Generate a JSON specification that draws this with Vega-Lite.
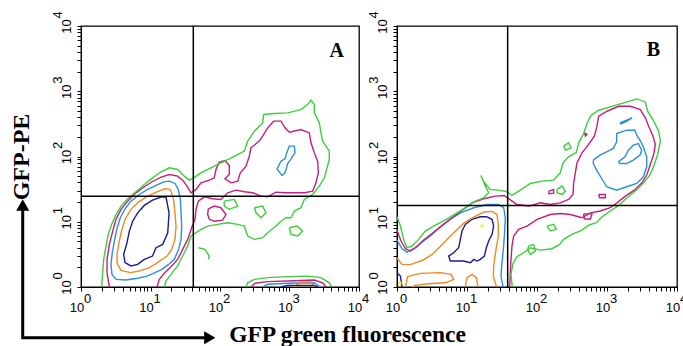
{
"$schema":"https://vega.github.io/schema/vega-lite/v6.json",
"background":"white",
"padding":{"left":9,"top":10,"right":0,"bottom":0},
"bounds":"flush",
"spacing":38,
"config":{
 "view":{"stroke":"#000","strokeWidth":1.3},
 "axis":{"grid":false,"domainColor":"#000","domainWidth":1,"tickColor":"#000","tickSize":4,"tickWidth":1,"labelColor":"#000","labelFont":"Liberation Sans","labelFontSize":13,"labelOverlap":false,"labelFlush":false},
 "axisY":{"labelAngle":-90,"labelAlign":"center","labelBaseline":"alphabetic","labelPadding":6.5},
 "axisX":{"labelBaseline":"alphabetic","labelPadding":20,"labelOffset":-4.5},
 "text":{"font":"Liberation Sans","fontSize":13,"color":"#000"}
},
"datasets":{
"xexp":[{"x":1.24,"y":0.569,"t":"0"},{"x":12.4,"y":0.569,"t":"1"},{"x":124,"y":0.569,"t":"2"},{"x":1240,"y":0.569,"t":"3"},{"x":12400,"y":0.569,"t":"4"}],
"yexp":[{"x":0.5364,"y":1.474,"t":"0"},{"x":0.5364,"y":14.74,"t":"1"},{"x":0.5364,"y":147.4,"t":"2"},{"x":0.5364,"y":1474,"t":"3"},{"x":0.5364,"y":14740,"t":"4"}],
"A":[
{"g":"a1","c":"n","i":0,"x":16.7,"y":24.1},{"g":"a1","c":"n","i":1,"x":18.5,"y":13.7},{"g":"a1","c":"n","i":2,"x":17.7,"y":6.79},{"g":"a1","c":"n","i":3,"x":15.0,"y":4.5},{"g":"a1","c":"n","i":4,"x":12.0,"y":4.0},{"g":"a1","c":"n","i":5,"x":10.7,"y":2.98},{"g":"a1","c":"n","i":6,"x":8.15,"y":2.65},{"g":"a1","c":"n","i":7,"x":6.54,"y":2.22},{"g":"a1","c":"n","i":8,"x":5.24,"y":2.1},{"g":"a1","c":"n","i":9,"x":4.3,"y":2.36},{"g":"a1","c":"n","i":10,"x":4.11,"y":3.16},{"g":"a1","c":"n","i":11,"x":4.59,"y":4.77},{"g":"a1","c":"n","i":12,"x":4.96,"y":7.2},{"g":"a1","c":"n","i":13,"x":5.54,"y":10.2},{"g":"a1","c":"n","i":14,"x":6.54,"y":13.7},{"g":"a1","c":"n","i":15,"x":8.15,"y":17.8},{"g":"a1","c":"n","i":16,"x":10.7,"y":21.5},{"g":"a1","c":"n","i":17,"x":14.2,"y":23.9},{"g":"a1","c":"n","i":18,"x":16.7,"y":24.1},
{"g":"a2","c":"o","i":0,"x":19.3,"y":31.3},{"g":"a2","c":"o","i":1,"x":21.5,"y":22.0},{"g":"a2","c":"o","i":2,"x":22.5,"y":13.7},{"g":"a2","c":"o","i":3,"x":23.3,"y":8.59},{"g":"a2","c":"o","i":4,"x":22.5,"y":5.37},{"g":"a2","c":"o","i":5,"x":20.2,"y":3.77},{"g":"a2","c":"o","i":6,"x":17.3,"y":2.98},{"g":"a2","c":"o","i":7,"x":14.2,"y":2.59},{"g":"a2","c":"o","i":8,"x":11.6,"y":2.22},{"g":"a2","c":"o","i":9,"x":9.1,"y":1.93},{"g":"a2","c":"o","i":10,"x":6.9,"y":1.76},{"g":"a2","c":"o","i":11,"x":5.13,"y":1.66},{"g":"a2","c":"o","i":12,"x":3.77,"y":1.8},{"g":"a2","c":"o","i":13,"x":3.3,"y":2.3},{"g":"a2","c":"o","i":14,"x":3.3,"y":3.16},{"g":"a2","c":"o","i":15,"x":3.52,"y":4.77},{"g":"a2","c":"o","i":16,"x":3.85,"y":7.45},{"g":"a2","c":"o","i":17,"x":4.34,"y":11.1},{"g":"a2","c":"o","i":18,"x":5.24,"y":15.5},{"g":"a2","c":"o","i":19,"x":6.68,"y":20.0},{"g":"a2","c":"o","i":20,"x":9.1,"y":24.7},{"g":"a2","c":"o","i":21,"x":12.4,"y":28.8},{"g":"a2","c":"o","i":22,"x":16.2,"y":32.0},{"g":"a2","c":"o","i":23,"x":19.3,"y":31.3},
{"g":"a3","c":"b","i":0,"x":18.7,"y":41.9},{"g":"a3","c":"b","i":1,"x":22.5,"y":38.6},{"g":"a3","c":"b","i":2,"x":25.1,"y":31.3},{"g":"a3","c":"b","i":3,"x":26.9,"y":22.0},{"g":"a3","c":"b","i":4,"x":27.5,"y":13.7},{"g":"a3","c":"b","i":5,"x":28.1,"y":8.59},{"g":"a3","c":"b","i":6,"x":27.5,"y":5.37},{"g":"a3","c":"b","i":7,"x":25.4,"y":3.77},{"g":"a3","c":"b","i":8,"x":22.0,"y":2.65},{"g":"a3","c":"b","i":9,"x":18.1,"y":2.2},{"g":"a3","c":"b","i":10,"x":14.6,"y":1.86},{"g":"a3","c":"b","i":11,"x":11.6,"y":1.66},{"g":"a3","c":"b","i":12,"x":8.91,"y":1.47},{"g":"a3","c":"b","i":13,"x":6.54,"y":1.36},{"g":"a3","c":"b","i":14,"x":4.44,"y":1.28},{"g":"a3","c":"b","i":15,"x":3.22,"y":1.31},{"g":"a3","c":"b","i":16,"x":2.79,"y":1.56},{"g":"a3","c":"b","i":17,"x":2.7,"y":2.22},{"g":"a3","c":"b","i":18,"x":2.82,"y":3.35},{"g":"a3","c":"b","i":19,"x":3.02,"y":5.06},{"g":"a3","c":"b","i":20,"x":3.3,"y":7.91},{"g":"a3","c":"b","i":21,"x":3.68,"y":11.5},{"g":"a3","c":"b","i":22,"x":4.3,"y":15.8},{"g":"a3","c":"b","i":23,"x":5.24,"y":20.7},{"g":"a3","c":"b","i":24,"x":6.9,"y":26.2},{"g":"a3","c":"b","i":25,"x":9.1,"y":31.3},{"g":"a3","c":"b","i":26,"x":12.0,"y":36.0},{"g":"a3","c":"b","i":27,"x":15.5,"y":40.9},{"g":"a3","c":"b","i":28,"x":18.7,"y":41.9},
{"g":"a4","c":"m","i":1,"x":2.56,"y":1},{"g":"a4","c":"m","i":2,"x":2.37,"y":1.66},{"g":"a4","c":"m","i":3,"x":2.37,"y":2.65},{"g":"a4","c":"m","i":4,"x":2.56,"y":4.5},{"g":"a4","c":"m","i":5,"x":2.86,"y":7.2},{"g":"a4","c":"m","i":6,"x":3.19,"y":10.9},{"g":"a4","c":"m","i":7,"x":3.77,"y":15.5},{"g":"a4","c":"m","i":8,"x":4.69,"y":20.7},{"g":"a4","c":"m","i":9,"x":5.98,"y":26.8},{"g":"a4","c":"m","i":10,"x":8.15,"y":34.4},{"g":"a4","c":"m","i":11,"x":10.7,"y":41.4},{"g":"a4","c":"m","i":12,"x":14.2,"y":48.3},{"g":"a4","c":"m","i":13,"x":18.7,"y":53.0},{"g":"a4","c":"m","i":14,"x":24.6,"y":50.0},{"g":"a4","c":"m","i":15,"x":29.0,"y":43.4},{"g":"a4","c":"m","i":16,"x":33.5,"y":35.2},{"g":"a4","c":"m","i":17,"x":38.3,"y":27.8},{"g":"a4","c":"m","i":18,"x":45.2,"y":31.3},{"g":"a4","c":"m","i":19,"x":53.3,"y":39.5},{"g":"a4","c":"m","i":20,"x":70.3,"y":43.4},{"g":"a4","c":"m","i":21,"x":82.8,"y":47.1},{"g":"a4","c":"m","i":22,"x":87.5,"y":63.2},{"g":"a4","c":"m","i":23,"x":97.7,"y":81.9},{"g":"a4","c":"m","i":24,"x":118,"y":86.9},{"g":"a4","c":"m","i":25,"x":136,"y":72.8},{"g":"a4","c":"m","i":26,"x":136,"y":53.0},{"g":"a4","c":"m","i":27,"x":118,"y":45.5},{"g":"a4","c":"m","i":28,"x":144,"y":39.5},{"g":"a4","c":"m","i":29,"x":180,"y":41.9},{"g":"a4","c":"m","i":30,"x":196,"y":56.2},{"g":"a4","c":"m","i":31,"x":237,"y":71.1},{"g":"a4","c":"m","i":32,"x":264,"y":101},{"g":"a4","c":"m","i":33,"x":279,"y":136},{"g":"a4","c":"m","i":34,"x":368,"y":172},{"g":"a4","c":"m","i":35,"x":411,"y":205},{"g":"a4","c":"m","i":36,"x":485,"y":275},{"g":"a4","c":"m","i":37,"x":592,"y":348},{"g":"a4","c":"m","i":38,"x":755,"y":348},{"g":"a4","c":"m","i":39,"x":861,"y":275},{"g":"a4","c":"m","i":40,"x":995,"y":236},{"g":"a4","c":"m","i":41,"x":1462,"y":259},{"g":"a4","c":"m","i":42,"x":1928,"y":230},{"g":"a4","c":"m","i":43,"x":2037,"y":162},{"g":"a4","c":"m","i":44,"x":2275,"y":114},{"g":"a4","c":"m","i":45,"x":2541,"y":84.9},{"g":"a4","c":"m","i":46,"x":2600,"y":56.2},{"g":"a4","c":"m","i":47,"x":2404,"y":39.5},{"g":"a4","c":"m","i":48,"x":2153,"y":29.5},{"g":"a4","c":"m","i":49,"x":1633,"y":27.8},{"g":"a4","c":"m","i":50,"x":1175,"y":27.8},{"g":"a4","c":"m","i":51,"x":843,"y":27.8},{"g":"a4","c":"m","i":52,"x":640,"y":28.4},{"g":"a4","c":"m","i":53,"x":485,"y":24.1},{"g":"a4","c":"m","i":54,"x":389,"y":24.7},{"g":"a4","c":"m","i":55,"x":295,"y":27.8},{"g":"a4","c":"m","i":56,"x":224,"y":28.8},{"g":"a4","c":"m","i":57,"x":170,"y":30.5},{"g":"a4","c":"m","i":58,"x":129,"y":27.8},{"g":"a4","c":"m","i":59,"x":103,"y":22.0},{"g":"a4","c":"m","i":60,"x":78.4,"y":22.5},{"g":"a4","c":"m","i":61,"x":59.6,"y":24.1},{"g":"a4","c":"m","i":62,"x":48.8,"y":20.7},{"g":"a4","c":"m","i":63,"x":45.2,"y":15.5},{"g":"a4","c":"m","i":64,"x":43.7,"y":10.9},{"g":"a4","c":"m","i":65,"x":39.1,"y":8.09},{"g":"a4","c":"m","i":66,"x":34.3,"y":5.37},{"g":"a4","c":"m","i":67,"x":29.0,"y":3.77},{"g":"a4","c":"m","i":68,"x":24.6,"y":2.65},{"g":"a4","c":"m","i":69,"x":19.7,"y":2.05},{"g":"a4","c":"m","i":70,"x":15.8,"y":1.62},{"g":"a4","c":"m","i":71,"x":13.4,"y":1.31},{"g":"a4","c":"m","i":72,"x":12.4,"y":1},
{"g":"a5","c":"m","i":0,"x":67.9,"y":15.8},{"g":"a5","c":"m","i":1,"x":82.8,"y":17.4},{"g":"a5","c":"m","i":2,"x":103,"y":16.4},{"g":"a5","c":"m","i":3,"x":122,"y":12.9},{"g":"a5","c":"m","i":4,"x":109,"y":10.6},{"g":"a5","c":"m","i":5,"x":82.8,"y":10.2},{"g":"a5","c":"m","i":6,"x":70.3,"y":10.9},{"g":"a5","c":"m","i":7,"x":66.5,"y":12.9},{"g":"a5","c":"m","i":8,"x":67.9,"y":15.8},
{"g":"a6","c":"b","i":0,"x":755,"y":84.9},{"g":"a6","c":"b","i":1,"x":661,"y":64.7},{"g":"a6","c":"b","i":2,"x":780,"y":51.2},{"g":"a6","c":"b","i":3,"x":861,"y":56.2},{"g":"a6","c":"b","i":4,"x":942,"y":78.1},{"g":"a6","c":"b","i":5,"x":1052,"y":92.1},{"g":"a6","c":"b","i":6,"x":1199,"y":114},{"g":"a6","c":"b","i":7,"x":1175,"y":144},{"g":"a6","c":"b","i":8,"x":995,"y":144},{"g":"a6","c":"b","i":9,"x":920,"y":116},{"g":"a6","c":"b","i":10,"x":861,"y":92.1},{"g":"a6","c":"b","i":11,"x":755,"y":84.9},
{"g":"a7","c":"g","i":0,"x":1.98,"y":1},{"g":"a7","c":"g","i":1,"x":2.05,"y":1.66},{"g":"a7","c":"g","i":2,"x":2.12,"y":2.65},{"g":"a7","c":"g","i":3,"x":2.29,"y":4.24},{"g":"a7","c":"g","i":4,"x":2.47,"y":6.4},{"g":"a7","c":"g","i":5,"x":2.76,"y":9.1},{"g":"a7","c":"g","i":6,"x":3.19,"y":12.9},{"g":"a7","c":"g","i":7,"x":3.77,"y":17.4},{"g":"a7","c":"g","i":8,"x":4.69,"y":22.5},{"g":"a7","c":"g","i":9,"x":6.18,"y":28.8},{"g":"a7","c":"g","i":10,"x":8.15,"y":37.3},{"g":"a7","c":"g","i":11,"x":10.7,"y":47.1},{"g":"a7","c":"g","i":12,"x":14.2,"y":58.3},{"g":"a7","c":"g","i":13,"x":18.7,"y":67.1},{"g":"a7","c":"g","i":14,"x":24.6,"y":63.2},{"g":"a7","c":"g","i":15,"x":30.7,"y":50.0},{"g":"a7","c":"g","i":16,"x":36.2,"y":43.4},{"g":"a7","c":"g","i":17,"x":41.8,"y":47.1},{"g":"a7","c":"g","i":18,"x":53.3,"y":56.2},{"g":"a7","c":"g","i":19,"x":82.8,"y":71.1},{"g":"a7","c":"g","i":20,"x":129,"y":89.9},{"g":"a7","c":"g","i":21,"x":180,"y":107},{"g":"a7","c":"g","i":22,"x":224,"y":121},{"g":"a7","c":"g","i":23,"x":250,"y":172},{"g":"a7","c":"g","i":24,"x":312,"y":244},{"g":"a7","c":"g","i":25,"x":411,"y":327},{"g":"a7","c":"g","i":26,"x":425,"y":440},{"g":"a7","c":"g","i":27,"x":605,"y":455},{"g":"a7","c":"g","i":28,"x":942,"y":466},{"g":"a7","c":"g","i":29,"x":1462,"y":524},{"g":"a7","c":"g","i":30,"x":1824,"y":625},{"g":"a7","c":"g","i":31,"x":2037,"y":728},{"g":"a7","c":"g","i":32,"x":2275,"y":625},{"g":"a7","c":"g","i":33,"x":2275,"y":466},{"g":"a7","c":"g","i":34,"x":2685,"y":327},{"g":"a7","c":"g","i":35,"x":2838,"y":230},{"g":"a7","c":"g","i":36,"x":3000,"y":172},{"g":"a7","c":"g","i":37,"x":3741,"y":121},{"g":"a7","c":"g","i":38,"x":3741,"y":89.9},{"g":"a7","c":"g","i":39,"x":3467,"y":67.1},{"g":"a7","c":"g","i":40,"x":3170,"y":47.1},{"g":"a7","c":"g","i":41,"x":2685,"y":35.2},{"g":"a7","c":"g","i":42,"x":2153,"y":26.2},{"g":"a7","c":"g","i":43,"x":1633,"y":22.0},{"g":"a7","c":"g","i":44,"x":1462,"y":16.4},{"g":"a7","c":"g","i":45,"x":1175,"y":14.6},{"g":"a7","c":"g","i":46,"x":1052,"y":11.5},{"g":"a7","c":"g","i":47,"x":891,"y":11.5},{"g":"a7","c":"g","i":48,"x":755,"y":10.2},{"g":"a7","c":"g","i":49,"x":640,"y":8.59},{"g":"a7","c":"g","i":50,"x":485,"y":6.79},{"g":"a7","c":"g","i":51,"x":411,"y":5.69},{"g":"a7","c":"g","i":52,"x":312,"y":5.37},{"g":"a7","c":"g","i":53,"x":250,"y":6.04},{"g":"a7","c":"g","i":54,"x":224,"y":8.59},{"g":"a7","c":"g","i":55,"x":180,"y":9.1},{"g":"a7","c":"g","i":56,"x":129,"y":9.66},{"g":"a7","c":"g","i":57,"x":92.5,"y":9.1},{"g":"a7","c":"g","i":58,"x":66.5,"y":8.59},{"g":"a7","c":"g","i":59,"x":53.3,"y":7.64},{"g":"a7","c":"g","i":60,"x":45.2,"y":6.79},{"g":"a7","c":"g","i":61,"x":38.3,"y":6.04},{"g":"a7","c":"g","i":62,"x":34.3,"y":4.24},{"g":"a7","c":"g","i":63,"x":29.0,"y":2.98},{"g":"a7","c":"g","i":64,"x":24.6,"y":2.1},{"g":"a7","c":"g","i":65,"x":19.7,"y":1.56},{"g":"a7","c":"g","i":66,"x":16.7,"y":1.24},{"g":"a7","c":"g","i":67,"x":15.8,"y":1},
{"g":"a8","c":"g","i":0,"x":115,"y":20.7},{"g":"a8","c":"g","i":1,"x":161,"y":22.0},{"g":"a8","c":"g","i":2,"x":180,"y":17.4},{"g":"a8","c":"g","i":3,"x":136,"y":15.5},{"g":"a8","c":"g","i":4,"x":115,"y":17.4},{"g":"a8","c":"g","i":5,"x":115,"y":20.7},
{"g":"a9","c":"g","i":0,"x":312,"y":16.4},{"g":"a9","c":"g","i":1,"x":411,"y":17.4},{"g":"a9","c":"g","i":2,"x":459,"y":13.7},{"g":"a9","c":"g","i":3,"x":389,"y":11.5},{"g":"a9","c":"g","i":4,"x":330,"y":13.7},{"g":"a9","c":"g","i":5,"x":312,"y":16.4},
{"g":"a10","c":"g","i":0,"x":995,"y":8.09},{"g":"a10","c":"g","i":1,"x":1282,"y":8.59},{"g":"a10","c":"g","i":2,"x":1545,"y":7.2},{"g":"a10","c":"g","i":3,"x":1312,"y":6.04},{"g":"a10","c":"g","i":4,"x":1052,"y":6.4},{"g":"a10","c":"g","i":5,"x":995,"y":8.09},
{"g":"a11","c":"g","i":0,"x":48.8,"y":4.0},{"g":"a11","c":"g","i":1,"x":60.8,"y":3.77},{"g":"a11","c":"g","i":2,"x":70.3,"y":2.98},{"g":"a11","c":"g","i":3,"x":67.9,"y":2.65},
{"g":"a12","c":"g","i":0,"x":237,"y":1},{"g":"a12","c":"g","i":1,"x":250,"y":1.16},{"g":"a12","c":"g","i":2,"x":312,"y":1.31},{"g":"a12","c":"g","i":3,"x":485,"y":1.39},{"g":"a12","c":"g","i":4,"x":942,"y":1.44},{"g":"a12","c":"g","i":5,"x":1824,"y":1.47},{"g":"a12","c":"g","i":6,"x":2838,"y":1.39},{"g":"a12","c":"g","i":7,"x":3741,"y":1.16},{"g":"a12","c":"g","i":8,"x":4046,"y":1},
{"g":"a13","c":"m","i":0,"x":279,"y":1},{"g":"a13","c":"m","i":1,"x":319,"y":1.14},{"g":"a13","c":"m","i":2,"x":485,"y":1.21},{"g":"a13","c":"m","i":3,"x":1175,"y":1.25},{"g":"a13","c":"m","i":4,"x":2275,"y":1.28},{"g":"a13","c":"m","i":5,"x":3000,"y":1.16},{"g":"a13","c":"m","i":6,"x":3350,"y":1},
{"g":"a14","c":"b","i":0,"x":411,"y":1},{"g":"a14","c":"b","i":1,"x":485,"y":1.1},{"g":"a14","c":"b","i":2,"x":1175,"y":1.15},{"g":"a14","c":"b","i":3,"x":2275,"y":1.16},{"g":"a14","c":"b","i":4,"x":2780,"y":1},
{"g":"a15","c":"o","i":0,"x":1175,"y":1},{"g":"a15","c":"o","i":1,"x":1462,"y":1.19},{"g":"a15","c":"o","i":2,"x":2037,"y":1.19},{"g":"a15","c":"o","i":3,"x":2275,"y":1},
{"g":"a16","c":"n","i":0,"x":755,"y":1},{"g":"a16","c":"n","i":1,"x":942,"y":1.06},{"g":"a16","c":"n","i":2,"x":2275,"y":1.06},{"g":"a16","c":"n","i":3,"x":2541,"y":1}
],
"B":[
{"g":"b1","c":"n","i":0,"x":19.3,"y":11.9},{"g":"b1","c":"n","i":1,"x":22.8,"y":10.9},{"g":"b1","c":"n","i":2,"x":24.0,"y":8.59},{"g":"b1","c":"n","i":3,"x":22.8,"y":6.4},{"g":"b1","c":"n","i":4,"x":20.4,"y":5.06},{"g":"b1","c":"n","i":5,"x":18.9,"y":4.0},{"g":"b1","c":"n","i":6,"x":17.7,"y":2.98},{"g":"b1","c":"n","i":7,"x":15.5,"y":2.65},{"g":"b1","c":"n","i":8,"x":13.9,"y":2.5},{"g":"b1","c":"n","i":9,"x":12.5,"y":2.65},{"g":"b1","c":"n","i":10,"x":11.2,"y":2.36},{"g":"b1","c":"n","i":11,"x":8.95,"y":2.5},{"g":"b1","c":"n","i":12,"x":7.2,"y":2.5},{"g":"b1","c":"n","i":13,"x":5.78,"y":2.5},{"g":"b1","c":"n","i":14,"x":5.47,"y":2.98},{"g":"b1","c":"n","i":15,"x":6.45,"y":3.35},{"g":"b1","c":"n","i":16,"x":7.6,"y":4.0},{"g":"b1","c":"n","i":17,"x":8.03,"y":5.37},{"g":"b1","c":"n","i":18,"x":8.49,"y":7.2},{"g":"b1","c":"n","i":19,"x":9.46,"y":9.1},{"g":"b1","c":"n","i":20,"x":11.8,"y":10.9},{"g":"b1","c":"n","i":21,"x":15.5,"y":11.9},{"g":"b1","c":"n","i":22,"x":19.3,"y":11.9},
{"g":"b2","c":"n","i":0,"x":1,"y":1.66},{"g":"b2","c":"n","i":1,"x":1.12,"y":1.47},{"g":"b2","c":"n","i":2,"x":1.18,"y":1},
{"g":"b3","c":"o","i":0,"x":1,"y":2.78},{"g":"b3","c":"o","i":1,"x":1.18,"y":2.22},{"g":"b3","c":"o","i":2,"x":1.55,"y":2.2},{"g":"b3","c":"o","i":3,"x":2.38,"y":2.59},{"g":"b3","c":"o","i":4,"x":3.16,"y":3.16},{"g":"b3","c":"o","i":5,"x":4.11,"y":4.14},{"g":"b3","c":"o","i":6,"x":5.47,"y":5.69},{"g":"b3","c":"o","i":7,"x":7.12,"y":7.45},{"g":"b3","c":"o","i":8,"x":8.95,"y":9.43},{"g":"b3","c":"o","i":9,"x":11.0,"y":10.9},{"g":"b3","c":"o","i":10,"x":13.9,"y":12.5},{"g":"b3","c":"o","i":11,"x":17.7,"y":14.1},{"g":"b3","c":"o","i":12,"x":22.8,"y":14.4},{"g":"b3","c":"o","i":13,"x":26.8,"y":12.9},{"g":"b3","c":"o","i":14,"x":28.0,"y":9.1},{"g":"b3","c":"o","i":15,"x":28.0,"y":5.89},{"g":"b3","c":"o","i":16,"x":26.2,"y":4.0},{"g":"b3","c":"o","i":17,"x":25.1,"y":2.91},{"g":"b3","c":"o","i":18,"x":24.0,"y":2.1},{"g":"b3","c":"o","i":19,"x":23.8,"y":1.44},{"g":"b3","c":"o","i":20,"x":26.5,"y":1},
{"g":"b4","c":"o","i":0,"x":1.32,"y":1},{"g":"b4","c":"o","i":1,"x":1.42,"y":1.44},{"g":"b4","c":"o","i":2,"x":2.15,"y":1.62},{"g":"b4","c":"o","i":3,"x":4.16,"y":1.66},{"g":"b4","c":"o","i":4,"x":5.91,"y":1.56},{"g":"b4","c":"o","i":5,"x":6.45,"y":1.31},{"g":"b4","c":"o","i":6,"x":4.9,"y":1.16},{"g":"b4","c":"o","i":7,"x":2.83,"y":1.12},{"g":"b4","c":"o","i":8,"x":1.83,"y":1.06},{"g":"b4","c":"o","i":9,"x":1.64,"y":1},
{"g":"b5","c":"o","i":0,"x":9.46,"y":1},{"g":"b5","c":"o","i":1,"x":10.0,"y":1.39},{"g":"b5","c":"o","i":2,"x":11.8,"y":1.56},{"g":"b5","c":"o","i":3,"x":13.6,"y":1.39},{"g":"b5","c":"o","i":4,"x":14.4,"y":1},
{"g":"b6","c":"b","i":0,"x":1,"y":5.24},{"g":"b6","c":"b","i":1,"x":1.18,"y":3.86},{"g":"b6","c":"b","i":2,"x":1.39,"y":3.43},{"g":"b6","c":"b","i":3,"x":1.73,"y":3.86},{"g":"b6","c":"b","i":4,"x":2.28,"y":4.88},{"g":"b6","c":"b","i":5,"x":2.99,"y":6.04},{"g":"b6","c":"b","i":6,"x":4.16,"y":8.28},{"g":"b6","c":"b","i":7,"x":5.78,"y":10.9},{"g":"b6","c":"b","i":8,"x":8.03,"y":13.7},{"g":"b6","c":"b","i":9,"x":12.5,"y":16.4},{"g":"b6","c":"b","i":10,"x":19.3,"y":18.4},{"g":"b6","c":"b","i":11,"x":28.3,"y":18.4},{"g":"b6","c":"b","i":12,"x":33.4,"y":16.4},{"g":"b6","c":"b","i":13,"x":35.3,"y":11.5},{"g":"b6","c":"b","i":14,"x":34.5,"y":7.2},{"g":"b6","c":"b","i":15,"x":33.4,"y":4.24},{"g":"b6","c":"b","i":16,"x":31.6,"y":2.36},{"g":"b6","c":"b","i":17,"x":30.6,"y":1.47},{"g":"b6","c":"b","i":18,"x":32.7,"y":1},
{"g":"b7","c":"m","i":0,"x":1,"y":7.45},{"g":"b7","c":"m","i":1,"x":1.14,"y":5.06},{"g":"b7","c":"m","i":2,"x":1.32,"y":3.86},{"g":"b7","c":"m","i":3,"x":1.55,"y":3.56},{"g":"b7","c":"m","i":4,"x":1.93,"y":4.14},{"g":"b7","c":"m","i":5,"x":2.4,"y":5.24},{"g":"b7","c":"m","i":6,"x":3.16,"y":6.62},{"g":"b7","c":"m","i":7,"x":4.4,"y":8.79},{"g":"b7","c":"m","i":8,"x":6.11,"y":11.5},{"g":"b7","c":"m","i":9,"x":8.49,"y":14.9},{"g":"b7","c":"m","i":10,"x":11.8,"y":19.5},{"g":"b7","c":"m","i":11,"x":17.3,"y":22.5},{"g":"b7","c":"m","i":12,"x":25.4,"y":24.7},{"g":"b7","c":"m","i":13,"x":34.1,"y":25.3},{"g":"b7","c":"m","i":14,"x":40.7,"y":22.0},{"g":"b7","c":"m","i":15,"x":51.8,"y":18.4},{"g":"b7","c":"m","i":16,"x":76.0,"y":17.4},{"g":"b7","c":"m","i":17,"x":112,"y":19.5},{"g":"b7","c":"m","i":18,"x":155,"y":18.4},{"g":"b7","c":"m","i":19,"x":215,"y":19.5},{"g":"b7","c":"m","i":20,"x":283,"y":22.0},{"g":"b7","c":"m","i":21,"x":327,"y":26.2},{"g":"b7","c":"m","i":22,"x":334,"y":39.5},{"g":"b7","c":"m","i":23,"x":353,"y":56.2},{"g":"b7","c":"m","i":24,"x":373,"y":80.0},{"g":"b7","c":"m","i":25,"x":440,"y":114},{"g":"b7","c":"m","i":26,"x":547,"y":153},{"g":"b7","c":"m","i":27,"x":659,"y":205},{"g":"b7","c":"m","i":28,"x":719,"y":291},{"g":"b7","c":"m","i":29,"x":760,"y":414},{"g":"b7","c":"m","i":30,"x":1000,"y":494},{"g":"b7","c":"m","i":31,"x":1469,"y":589},{"g":"b7","c":"m","i":32,"x":2153,"y":589},{"g":"b7","c":"m","i":33,"x":2992,"y":524},{"g":"b7","c":"m","i":34,"x":3532,"y":391},{"g":"b7","c":"m","i":35,"x":3936,"y":291},{"g":"b7","c":"m","i":36,"x":4540,"y":205},{"g":"b7","c":"m","i":37,"x":4898,"y":153},{"g":"b7","c":"m","i":38,"x":4645,"y":107},{"g":"b7","c":"m","i":39,"x":4159,"y":75.5},{"g":"b7","c":"m","i":40,"x":3724,"y":53.0},{"g":"b7","c":"m","i":41,"x":3162,"y":39.5},{"g":"b7","c":"m","i":42,"x":2455,"y":30.5},{"g":"b7","c":"m","i":43,"x":1828,"y":24.7},{"g":"b7","c":"m","i":44,"x":1390,"y":19.5},{"g":"b7","c":"m","i":45,"x":1117,"y":16.4},{"g":"b7","c":"m","i":46,"x":803,"y":14.6},{"g":"b7","c":"m","i":47,"x":578,"y":13.7},{"g":"b7","c":"m","i":48,"x":440,"y":11.5},{"g":"b7","c":"m","i":49,"x":299,"y":12.9},{"g":"b7","c":"m","i":50,"x":215,"y":13.4},{"g":"b7","c":"m","i":51,"x":155,"y":12.9},{"g":"b7","c":"m","i":52,"x":100,"y":10.9},{"g":"b7","c":"m","i":53,"x":71.9,"y":8.59},{"g":"b7","c":"m","i":54,"x":54.7,"y":7.64},{"g":"b7","c":"m","i":55,"x":46.4,"y":6.04},{"g":"b7","c":"m","i":56,"x":43.9,"y":4.24},{"g":"b7","c":"m","i":57,"x":42.5,"y":2.65},{"g":"b7","c":"m","i":58,"x":41.6,"y":1.66},{"g":"b7","c":"m","i":59,"x":40.7,"y":1},
{"g":"b8","c":"b","i":0,"x":638,"y":87.9},{"g":"b8","c":"b","i":1,"x":794,"y":105},{"g":"b8","c":"b","i":2,"x":989,"y":118},{"g":"b8","c":"b","i":3,"x":1231,"y":133},{"g":"b8","c":"b","i":4,"x":1374,"y":168},{"g":"b8","c":"b","i":5,"x":1374,"y":225},{"g":"b8","c":"b","i":6,"x":1910,"y":253},{"g":"b8","c":"b","i":7,"x":2512,"y":253},{"g":"b8","c":"b","i":8,"x":2655,"y":212},{"g":"b8","c":"b","i":9,"x":2958,"y":178},{"g":"b8","c":"b","i":10,"x":3304,"y":141},{"g":"b8","c":"b","i":11,"x":3690,"y":98.9},{"g":"b8","c":"b","i":12,"x":3690,"y":69.5},{"g":"b8","c":"b","i":13,"x":3304,"y":48.9},{"g":"b8","c":"b","i":14,"x":2655,"y":38.6},{"g":"b8","c":"b","i":15,"x":1910,"y":34.4},{"g":"b8","c":"b","i":16,"x":1374,"y":30.5},{"g":"b8","c":"b","i":17,"x":989,"y":34.4},{"g":"b8","c":"b","i":18,"x":839,"y":46.0},{"g":"b8","c":"b","i":19,"x":711,"y":61.8},{"g":"b8","c":"b","i":20,"x":638,"y":78.1},{"g":"b8","c":"b","i":21,"x":638,"y":87.9},
{"g":"b9","c":"b","i":0,"x":1452,"y":82.8},{"g":"b9","c":"b","i":1,"x":1807,"y":98.9},{"g":"b9","c":"b","i":2,"x":2018,"y":125},{"g":"b9","c":"b","i":3,"x":2377,"y":149},{"g":"b9","c":"b","i":4,"x":2805,"y":158},{"g":"b9","c":"b","i":5,"x":3126,"y":125},{"g":"b9","c":"b","i":6,"x":2958,"y":105},{"g":"b9","c":"b","i":7,"x":2377,"y":87.9},{"g":"b9","c":"b","i":8,"x":1910,"y":78.1},{"g":"b9","c":"b","i":9,"x":1535,"y":78.1},{"g":"b9","c":"b","i":10,"x":1452,"y":82.8},
{"g":"b10","c":"b","i":0,"x":1535,"y":327},{"g":"b10","c":"b","i":1,"x":2275,"y":391},{"g":"b10","c":"b","i":2,"x":1932,"y":348},{"g":"b10","c":"b","i":3,"x":1585,"y":316},{"g":"b10","c":"b","i":4,"x":1535,"y":327},
{"g":"b11","c":"g","i":0,"x":1,"y":11.9},{"g":"b11","c":"g","i":1,"x":1.12,"y":8.59},{"g":"b11","c":"g","i":2,"x":1.24,"y":5.37},{"g":"b11","c":"g","i":3,"x":1.39,"y":4.0},{"g":"b11","c":"g","i":4,"x":1.64,"y":4.24},{"g":"b11","c":"g","i":5,"x":2.04,"y":5.37},{"g":"b11","c":"g","i":6,"x":2.54,"y":7.2},{"g":"b11","c":"g","i":7,"x":3.34,"y":8.59},{"g":"b11","c":"g","i":8,"x":5.18,"y":11.1},{"g":"b11","c":"g","i":9,"x":8.95,"y":15.8},{"g":"b11","c":"g","i":10,"x":12.5,"y":20.2},{"g":"b11","c":"g","i":11,"x":17.3,"y":23.3},{"g":"b11","c":"g","i":12,"x":20.4,"y":27.8},{"g":"b11","c":"g","i":13,"x":18.3,"y":35.2},{"g":"b11","c":"g","i":14,"x":15.8,"y":51.2},{"g":"b11","c":"g","i":15,"x":17.7,"y":39.5},{"g":"b11","c":"g","i":16,"x":21.5,"y":31.3},{"g":"b11","c":"g","i":17,"x":28.3,"y":30.5},{"g":"b11","c":"g","i":18,"x":37.3,"y":28.8},{"g":"b11","c":"g","i":19,"x":43.9,"y":25.3},{"g":"b11","c":"g","i":20,"x":57.8,"y":30.5},{"g":"b11","c":"g","i":21,"x":80.3,"y":38.6},{"g":"b11","c":"g","i":22,"x":118,"y":41.9},{"g":"b11","c":"g","i":23,"x":173,"y":43.4},{"g":"b11","c":"g","i":24,"x":215,"y":56.2},{"g":"b11","c":"g","i":25,"x":235,"y":80.0},{"g":"b11","c":"g","i":26,"x":283,"y":98.9},{"g":"b11","c":"g","i":27,"x":365,"y":116},{"g":"b11","c":"g","i":28,"x":394,"y":162},{"g":"b11","c":"g","i":29,"x":464,"y":225},{"g":"b11","c":"g","i":30,"x":518,"y":320},{"g":"b11","c":"g","i":31,"x":591,"y":425},{"g":"b11","c":"g","i":32,"x":760,"y":512},{"g":"b11","c":"g","i":33,"x":1117,"y":575},{"g":"b11","c":"g","i":34,"x":1730,"y":663},{"g":"b11","c":"g","i":35,"x":2685,"y":763},{"g":"b11","c":"g","i":36,"x":3532,"y":679},{"g":"b11","c":"g","i":37,"x":3811,"y":494},{"g":"b11","c":"g","i":38,"x":4645,"y":348},{"g":"b11","c":"g","i":39,"x":5470,"y":244},{"g":"b11","c":"g","i":40,"x":5780,"y":172},{"g":"b11","c":"g","i":41,"x":5297,"y":107},{"g":"b11","c":"g","i":42,"x":4742,"y":75.5},{"g":"b11","c":"g","i":43,"x":4159,"y":53.0},{"g":"b11","c":"g","i":44,"x":3342,"y":39.5},{"g":"b11","c":"g","i":45,"x":2541,"y":29.5},{"g":"b11","c":"g","i":46,"x":1932,"y":23.3},{"g":"b11","c":"g","i":47,"x":1469,"y":17.8},{"g":"b11","c":"g","i":48,"x":1117,"y":14.6},{"g":"b11","c":"g","i":49,"x":849,"y":11.9},{"g":"b11","c":"g","i":50,"x":705,"y":9.66},{"g":"b11","c":"g","i":51,"x":547,"y":8.89},{"g":"b11","c":"g","i":52,"x":440,"y":7.45},{"g":"b11","c":"g","i":53,"x":316,"y":6.4},{"g":"b11","c":"g","i":54,"x":240,"y":5.37},{"g":"b11","c":"g","i":55,"x":211,"y":4.5},{"g":"b11","c":"g","i":56,"x":164,"y":3.86},{"g":"b11","c":"g","i":57,"x":112,"y":3.68},{"g":"b11","c":"g","i":58,"x":80.3,"y":4.0},{"g":"b11","c":"g","i":59,"x":64.5,"y":3.35},{"g":"b11","c":"g","i":60,"x":51.8,"y":2.91},{"g":"b11","c":"g","i":61,"x":45.4,"y":2.3},{"g":"b11","c":"g","i":62,"x":42.5,"y":1.56},{"g":"b11","c":"g","i":63,"x":44.4,"y":1},
{"g":"b12","c":"g","i":0,"x":240,"y":144},{"g":"b12","c":"g","i":1,"x":283,"y":162},{"g":"b12","c":"g","i":2,"x":306,"y":136},{"g":"b12","c":"g","i":3,"x":254,"y":125},{"g":"b12","c":"g","i":4,"x":240,"y":144},
{"g":"b13","c":"g","i":0,"x":193,"y":31.3},{"g":"b13","c":"g","i":1,"x":228,"y":35.2},{"g":"b13","c":"g","i":2,"x":254,"y":29.5},{"g":"b13","c":"g","i":3,"x":228,"y":26.2},{"g":"b13","c":"g","i":4,"x":193,"y":27.8},{"g":"b13","c":"g","i":5,"x":193,"y":31.3},
{"g":"b14","c":"g","i":0,"x":139,"y":8.59},{"g":"b14","c":"g","i":1,"x":173,"y":9.1},{"g":"b14","c":"g","i":2,"x":189,"y":7.64},{"g":"b14","c":"g","i":3,"x":155,"y":7.2},{"g":"b14","c":"g","i":4,"x":139,"y":8.59},
{"g":"b15","c":"g","i":0,"x":76.0,"y":4.24},{"g":"b15","c":"g","i":1,"x":89.5,"y":4.5},{"g":"b15","c":"g","i":2,"x":94.6,"y":3.56},{"g":"b15","c":"g","i":3,"x":80.3,"y":3.16},{"g":"b15","c":"g","i":4,"x":73.6,"y":3.77},{"g":"b15","c":"g","i":5,"x":76.0,"y":4.24},
{"g":"b16","c":"m","i":0,"x":147,"y":29.5},{"g":"b16","c":"m","i":1,"x":173,"y":31.3},{"g":"b16","c":"m","i":2,"x":173,"y":27.5},{"g":"b16","c":"m","i":3,"x":148,"y":26.8},{"g":"b16","c":"m","i":4,"x":147,"y":29.5},
{"g":"b17","c":"m","i":0,"x":760,"y":26.2},{"g":"b17","c":"m","i":1,"x":946,"y":26.2},{"g":"b17","c":"m","i":2,"x":946,"y":23.3},{"g":"b17","c":"m","i":3,"x":785,"y":23.3},{"g":"b17","c":"m","i":4,"x":760,"y":26.2},
{"g":"b18","c":"m","i":0,"x":464,"y":13.2},{"g":"b18","c":"m","i":1,"x":611,"y":13.2},{"g":"b18","c":"m","i":2,"x":578,"y":10.9},{"g":"b18","c":"m","i":3,"x":474,"y":11.1},{"g":"b18","c":"m","i":4,"x":464,"y":13.2},
{"g":"b19","c":"m","i":0,"x":480,"y":230},{"g":"b19","c":"m","i":1,"x":518,"y":218},{"g":"b19","c":"m","i":2,"x":490,"y":205},{"g":"b19","c":"m","i":3,"x":480,"y":230}
]
},
"hconcat":[
{
"width":278,"height":261,
"layer":[
{"data":{"name":"A"},"mark":{"type":"line","clip":true,"strokeWidth":1.4},
 "encoding":{
  "x":{"field":"x","type":"quantitative","scale":{"type":"log","domain":[1,10000],"nice":false},"axis":{"title":null,"values":[1,2,3,4,5,6,7,8,9,10,20,30,40,50,60,70,80,90,100,200,300,400,500,600,700,800,900,1000,2000,3000,4000,5000,6000,7000,8000,9000,10000],"labelExpr":"datum.value==1||datum.value==10||datum.value==100||datum.value==1000||datum.value==10000?'10':''"}},
  "y":{"field":"y","type":"quantitative","scale":{"type":"log","domain":[1,10000],"nice":false},"axis":{"title":null,"values":[1,2,3,4,5,6,7,8,9,10,20,30,40,50,60,70,80,90,100,200,300,400,500,600,700,800,900,1000,2000,3000,4000,5000,6000,7000,8000,9000,10000],"labelExpr":"datum.value==1||datum.value==10||datum.value==100||datum.value==1000||datum.value==10000?'10':''"}},
  "detail":{"field":"g","type":"nominal"},
  "order":{"field":"i","type":"quantitative"},
  "color":{"field":"c","type":"nominal","scale":{"domain":["g","m","b","o","n"],"range":["#3dcd3d","#c41f7c","#2c90d5","#ee8a25","#1c1c8e"]},"legend":null}
 }},
{"data":{"name":"xexp"},"mark":{"type":"text","align":"center","baseline":"alphabetic","clip":false},
 "encoding":{"x":{"field":"x","type":"quantitative","scale":{"type":"log","domain":[1,10000],"nice":false}},"y":{"field":"y","type":"quantitative","scale":{"type":"log","domain":[1,10000],"nice":false}},"text":{"field":"t"}}},
{"data":{"name":"yexp"},"mark":{"type":"text","align":"center","baseline":"alphabetic","angle":270,"clip":false},
 "encoding":{"x":{"field":"x","type":"quantitative","scale":{"type":"log","domain":[1,10000],"nice":false}},"y":{"field":"y","type":"quantitative","scale":{"type":"log","domain":[1,10000],"nice":false}},"text":{"field":"t"}}},
{"data":{"values":[{"x":41.3}]},"mark":{"type":"rule","color":"#000","strokeWidth":1.5},"encoding":{"x":{"field":"x","type":"quantitative","scale":{"type":"log","domain":[1,10000],"nice":false}}}},
{"data":{"values":[{"y":24.7}]},"mark":{"type":"rule","color":"#000","strokeWidth":1.5},"encoding":{"y":{"field":"y","type":"quantitative","scale":{"type":"log","domain":[1,10000],"nice":false}}}},
{"data":{"values":[{"x":4775,"y":4093,"t":"A"}]},"mark":{"type":"text","font":"Liberation Serif","fontWeight":"bold","fontSize":20,"color":"#000","align":"center","baseline":"middle"},
 "encoding":{"x":{"field":"x","type":"quantitative","scale":{"type":"log","domain":[1,10000],"nice":false}},"y":{"field":"y","type":"quantitative","scale":{"type":"log","domain":[1,10000],"nice":false}},"text":{"field":"t"}}},
{"data":{"values":[{"x":0.145,"y":18.07,"i":0},{"x":0.145,"y":0.167,"i":1},{"x":71.3,"y":0.167,"i":2}]},"mark":{"type":"line","color":"#000","strokeWidth":3,"strokeJoin":"miter","clip":false},
 "encoding":{"x":{"field":"x","type":"quantitative","scale":{"type":"log","domain":[1,10000],"nice":false}},"y":{"field":"y","type":"quantitative","scale":{"type":"log","domain":[1,10000],"nice":false}},"order":{"field":"i","type":"quantitative"}}},
{"data":{"values":[{"x":0.145,"y":18.07,"s":"triangle-up"},{"x":71.3,"y":0.167,"s":"triangle-right"}]},"mark":{"type":"point","filled":true,"color":"#000","opacity":1,"size":170,"clip":false},
 "encoding":{"x":{"field":"x","type":"quantitative","scale":{"type":"log","domain":[1,10000],"nice":false}},"y":{"field":"y","type":"quantitative","scale":{"type":"log","domain":[1,10000],"nice":false}},"shape":{"field":"s","type":"nominal","scale":null}}},
{"data":{"values":[{"x":0.1416,"y":98.2,"t":"GFP-PE"}]},"mark":{"type":"text","font":"Liberation Serif","fontWeight":"bold","fontSize":24,"color":"#000","angle":270,"align":"center","baseline":"middle"},
 "encoding":{"x":{"field":"x","type":"quantitative","scale":{"type":"log","domain":[1,10000],"nice":false}},"y":{"field":"y","type":"quantitative","scale":{"type":"log","domain":[1,10000],"nice":false}},"text":{"field":"t"}}},
{"data":{"values":[{"x":6837,"y":0.1436,"t":"GFP green fluorescence"}]},"mark":{"type":"text","font":"Liberation Serif","fontWeight":"bold","fontSize":23.5,"color":"#000","align":"center","baseline":"alphabetic"},
 "encoding":{"x":{"field":"x","type":"quantitative","scale":{"type":"log","domain":[1,10000],"nice":false}},"y":{"field":"y","type":"quantitative","scale":{"type":"log","domain":[1,10000],"nice":false}},"text":{"field":"t"}}}
]
},
{
"width":280,"height":261,
"layer":[
{"data":{"name":"B"},"mark":{"type":"line","clip":true,"strokeWidth":1.4},
 "encoding":{
  "x":{"field":"x","type":"quantitative","scale":{"type":"log","domain":[1,10000],"nice":false},"axis":{"title":null,"values":[1,2,3,4,5,6,7,8,9,10,20,30,40,50,60,70,80,90,100,200,300,400,500,600,700,800,900,1000,2000,3000,4000,5000,6000,7000,8000,9000,10000],"labelExpr":"datum.value==1||datum.value==10||datum.value==100||datum.value==1000||datum.value==10000?'10':''"}},
  "y":{"field":"y","type":"quantitative","scale":{"type":"log","domain":[1,10000],"nice":false},"axis":{"title":null,"values":[1,2,3,4,5,6,7,8,9,10,20,30,40,50,60,70,80,90,100,200,300,400,500,600,700,800,900,1000,2000,3000,4000,5000,6000,7000,8000,9000,10000],"labelExpr":"datum.value==1||datum.value==10||datum.value==100||datum.value==1000||datum.value==10000?'10':''"}},
  "detail":{"field":"g","type":"nominal"},
  "order":{"field":"i","type":"quantitative"},
  "color":{"field":"c","type":"nominal","scale":{"domain":["g","m","b","o","n"],"range":["#3dcd3d","#c41f7c","#2c90d5","#ee8a25","#1c1c8e"]},"legend":null}
 }},
{"data":{"name":"xexp"},"mark":{"type":"text","align":"center","baseline":"alphabetic","clip":false},
 "encoding":{"x":{"field":"x","type":"quantitative","scale":{"type":"log","domain":[1,10000],"nice":false}},"y":{"field":"y","type":"quantitative","scale":{"type":"log","domain":[1,10000],"nice":false}},"text":{"field":"t"}}},
{"data":{"name":"yexp"},"mark":{"type":"text","align":"center","baseline":"alphabetic","angle":270,"clip":false},
 "encoding":{"x":{"field":"x","type":"quantitative","scale":{"type":"log","domain":[1,10000],"nice":false}},"y":{"field":"y","type":"quantitative","scale":{"type":"log","domain":[1,10000],"nice":false}},"text":{"field":"t"}}},
{"data":{"values":[{"x":16.4,"y":8.59},{"x":1.1,"y":1.15}]},"mark":{"type":"point","filled":true,"color":"#f2f04a","size":14,"opacity":1},
 "encoding":{"x":{"field":"x","type":"quantitative","scale":{"type":"log","domain":[1,10000],"nice":false}},"y":{"field":"y","type":"quantitative","scale":{"type":"log","domain":[1,10000],"nice":false}}}},
{"data":{"values":[{"x":38.1}]},"mark":{"type":"rule","color":"#000","strokeWidth":1.5},"encoding":{"x":{"field":"x","type":"quantitative","scale":{"type":"log","domain":[1,10000],"nice":false}}}},
{"data":{"values":[{"y":17.8}]},"mark":{"type":"rule","color":"#000","strokeWidth":1.5},"encoding":{"y":{"field":"y","type":"quantitative","scale":{"type":"log","domain":[1,10000],"nice":false}}}},
{"data":{"values":[{"x":4592,"y":4295,"t":"B"}]},"mark":{"type":"text","font":"Liberation Serif","fontWeight":"bold","fontSize":20,"color":"#000","align":"center","baseline":"middle"},
 "encoding":{"x":{"field":"x","type":"quantitative","scale":{"type":"log","domain":[1,10000],"nice":false}},"y":{"field":"y","type":"quantitative","scale":{"type":"log","domain":[1,10000],"nice":false}},"text":{"field":"t"}}}
]
}
]
}
